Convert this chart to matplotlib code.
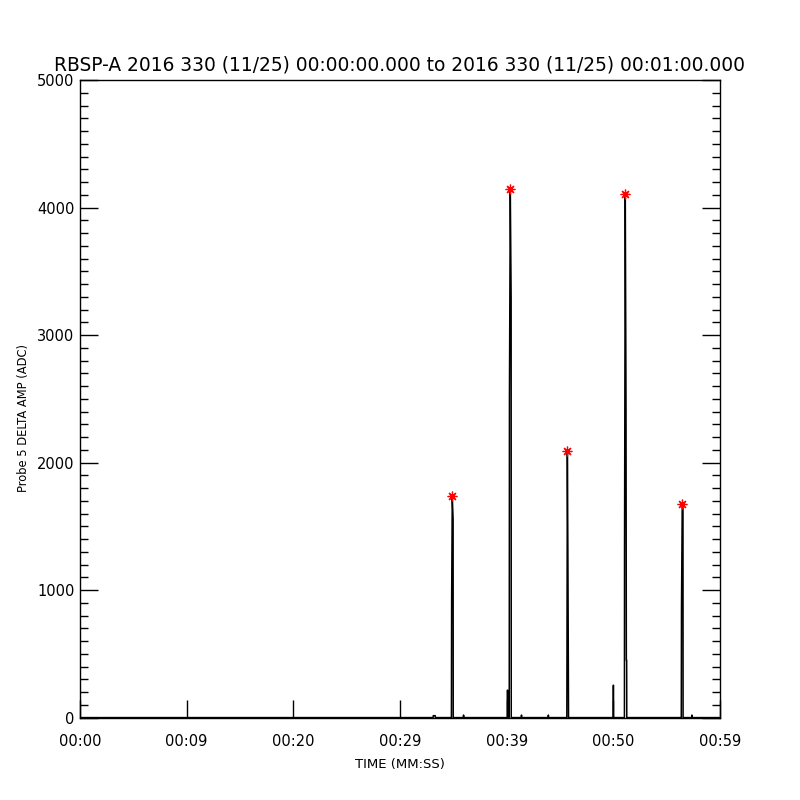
import matplotlib

matplotlib.use("Agg")
import matplotlib.pyplot as plt
from matplotlib.ticker import MultipleLocator

# Probe 5 delta amplitude trace (seconds since 00:00:00, ADC counts)
trace_t = [
    0.0, 33.10, 33.12, 33.30, 33.32,
    34.82, 34.84, 34.90, 34.98, 34.99,
    35.95, 35.96, 35.97,
    40.06, 40.07, 40.09, 40.10,
    40.24, 40.26, 40.34, 40.42, 40.43,
    41.38, 41.39, 41.40,
    43.90, 43.91, 43.92,
    45.64, 45.65, 45.69, 45.74, 45.79, 45.80,
    49.99, 50.00, 50.01, 50.02,
    51.04, 51.05, 51.12, 51.19, 51.22, 51.25, 51.26,
    56.37, 56.39, 56.46, 56.53, 56.54,
    57.35, 57.36, 57.37,
    60.0,
]
trace_v = [
    0, 0, 15, 15, 0,
    0, 920, 1735, 1554, 0,
    0, 20, 0,
    0, 215, 215, 0,
    0, 2510, 4146, 3285, 0,
    0, 20, 0,
    0, 20, 0,
    0, 348, 2087, 1288, 239, 0,
    0, 254, 254, 0,
    0, 1311, 4105, 2431, 450, 450, 0,
    0, 865, 1677, 1640, 0,
    0, 20, 0,
    0,
]

# detected peaks
peak_t = [34.90, 40.34, 45.69, 51.12, 56.46]
peak_v = [1735, 4146, 2087, 4105, 1677]

x_ticks = [0, 10, 20, 30, 40, 50, 60]
x_labels = ["00:00", "00:09", "00:20", "00:29", "00:39", "00:50", "00:59"]
y_ticks = [0, 1000, 2000, 3000, 4000, 5000]

fig = plt.figure(figsize=(8, 8), dpi=100)
ax = fig.add_axes([0.1, 0.103, 0.8, 0.797])

ax.plot(trace_t, trace_v, color="black", linewidth=1.1)
ax.plot(peak_t, peak_v, linestyle="none", marker=(8, 2, 0), markersize=7,
        markeredgecolor="red", markeredgewidth=0.9)

ax.set_xlim(0, 60)
ax.set_ylim(0, 5000)
ax.set_xticks(x_ticks)
ax.set_xticklabels(x_labels)
ax.set_yticks(y_ticks)
ax.yaxis.set_minor_locator(MultipleLocator(100))

ax.tick_params(axis="x", which="major", direction="in", length=13, width=1,
               top=False, pad=12, labelsize=10.5)
ax.tick_params(axis="y", which="major", direction="in", length=13, width=1,
               right=True, pad=4, labelsize=10.5)
ax.tick_params(axis="y", which="minor", direction="in", length=6, width=1,
               right=True)
for s in ax.spines.values():
    s.set_linewidth(1.0)

ax.set_xlabel("TIME (MM:SS)", fontsize=9.5, labelpad=6)
ax.set_ylabel("Probe 5 DELTA AMP (ADC)", fontsize=8.3)
ax.yaxis.set_label_coords(-0.078, 0.47)
ax.set_title("RBSP-A 2016 330 (11/25) 00:00:00.000 to 2016 330 (11/25) 00:01:00.000",
             fontsize=13.4, pad=7)

fig.savefig("out.png", dpi=100)
